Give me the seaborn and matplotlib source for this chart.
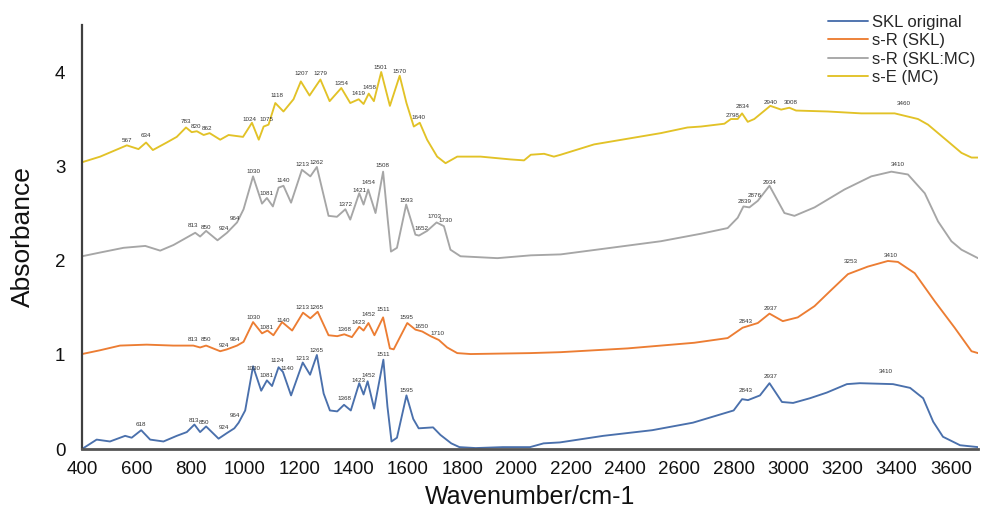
import matplotlib
matplotlib.use("Agg")
import matplotlib.pyplot as plt
import seaborn as sns
import pandas as pd

# ---------------- data ----------------
series_names = ["SKL original", "s-R (SKL)", "s-R (SKL:MC)", "s-E (MC)"]

skl_wn = [400, 454, 503, 559, 583, 618, 651, 700, 749, 786, 814, 835, 857, 903, 934, 961, 977, 1001, 1030, 1060,
          1081, 1100, 1124, 1140, 1170, 1213, 1240, 1265, 1290, 1313, 1340, 1365, 1390, 1421, 1437, 1452, 1476, 1510,
          1525, 1540, 1560, 1595, 1620, 1640, 1693, 1720, 1760, 1790, 1850, 1950, 2050, 2100, 2160, 2320, 2500, 2650,
          2800, 2831, 2853, 2897, 2932, 2978, 3019, 3081, 3143, 3217, 3265, 3387, 3450, 3498, 3535, 3571, 3634, 3700]
skl_abs = [0.0, 0.10, 0.08, 0.14, 0.12, 0.20, 0.10, 0.08, 0.14, 0.18, 0.26, 0.18, 0.24, 0.11, 0.17, 0.22, 0.28, 0.41,
           0.88, 0.62, 0.73, 0.67, 0.87, 0.82, 0.57, 0.92, 0.79, 1.00, 0.59, 0.41, 0.40, 0.47, 0.41, 0.70, 0.58, 0.72,
           0.43, 0.95, 0.45, 0.08, 0.12, 0.57, 0.32, 0.22, 0.23, 0.15, 0.06, 0.02, 0.01, 0.02, 0.02, 0.06, 0.07, 0.14,
           0.20, 0.28, 0.41, 0.53, 0.52, 0.57, 0.70, 0.50, 0.49, 0.54, 0.60, 0.69, 0.70, 0.69, 0.65, 0.54, 0.29, 0.13,
           0.04, 0.02]

sr_wn = [400, 466, 540, 638, 736, 810, 835, 857, 909, 934, 971, 995, 1030, 1063, 1083, 1105, 1137, 1174, 1214, 1241,
         1268, 1308, 1340, 1366, 1394, 1421, 1437, 1455, 1477, 1509, 1534, 1548, 1598, 1628, 1653, 1684, 1714, 1745,
         1782, 1831, 2050, 2163, 2409, 2655, 2778, 2833, 2889, 2932, 2981, 3036, 3098, 3159, 3221, 3294, 3368, 3405,
         3467, 3541, 3614, 3676, 3700]
sr_abs = [1.01, 1.05, 1.10, 1.11, 1.10, 1.10, 1.08, 1.10, 1.04, 1.06, 1.10, 1.14, 1.35, 1.23, 1.26, 1.21, 1.35, 1.26,
          1.45, 1.39, 1.46, 1.21, 1.20, 1.22, 1.19, 1.30, 1.26, 1.34, 1.21, 1.40, 1.07, 1.06, 1.34, 1.27, 1.25, 1.20,
          1.16, 1.08, 1.02, 1.01, 1.02, 1.03, 1.07, 1.13, 1.18, 1.29, 1.34, 1.44, 1.36, 1.40, 1.52, 1.69, 1.86, 1.94,
          2.00, 1.99, 1.87, 1.57, 1.29, 1.04, 1.02]

mix_wn = [400, 467, 553, 633, 688, 737, 817, 835, 857, 899, 934, 971, 995, 1030, 1063, 1081, 1103, 1124, 1142, 1170,
          1210, 1241, 1265, 1308, 1339, 1370, 1388, 1421, 1437, 1454, 1481, 1509, 1526, 1538, 1560, 1594, 1628, 1641,
          1671, 1706, 1733, 1757, 1794, 1930, 2053, 2163, 2348, 2532, 2680, 2778, 2815, 2836, 2858, 2889, 2932, 2987,
          3024, 3098, 3208, 3307, 3381, 3442, 3504, 3553, 3602, 3639, 3700]
mix_abs = [2.05, 2.09, 2.14, 2.16, 2.11, 2.17, 2.30, 2.26, 2.32, 2.22, 2.30, 2.41, 2.55, 2.90, 2.61, 2.67, 2.58, 2.78,
           2.80, 2.62, 2.97, 2.90, 3.00, 2.48, 2.47, 2.55, 2.44, 2.72, 2.60, 2.76, 2.51, 2.95, 2.44, 2.10, 2.14, 2.60,
           2.28, 2.27, 2.32, 2.41, 2.37, 2.12, 2.05, 2.03, 2.06, 2.07, 2.14, 2.21, 2.29, 2.35, 2.46, 2.58, 2.57, 2.64,
           2.80, 2.51, 2.48, 2.57, 2.76, 2.90, 2.95, 2.92, 2.72, 2.42, 2.21, 2.12, 2.03]

mc_wn = [400, 467, 516, 565, 608, 636, 661, 712, 749, 783, 804, 823, 848, 870, 909, 940, 993, 1026, 1051, 1069, 1087,
         1112, 1142, 1179, 1206, 1238, 1278, 1312, 1355, 1388, 1419, 1437, 1456, 1475, 1502, 1534, 1570, 1595, 1622,
         1644, 1671, 1708, 1739, 1782, 1868, 1979, 2028, 2053, 2102, 2138, 2163, 2286, 2409, 2532, 2630, 2680, 2766,
         2790, 2815, 2831, 2852, 2876, 2935, 2975, 3005, 3030, 3147, 3270, 3393, 3479, 3516, 3590, 3639, 3676, 3700]
mc_abs = [3.05, 3.11, 3.17, 3.23, 3.19, 3.26, 3.18, 3.26, 3.32, 3.42, 3.37, 3.38, 3.34, 3.36, 3.29, 3.34, 3.32, 3.47,
          3.29, 3.43, 3.45, 3.68, 3.59, 3.72, 3.91, 3.76, 3.93, 3.70, 3.84, 3.68, 3.72, 3.67, 3.78, 3.70, 4.01, 3.65,
          3.97, 3.68, 3.43, 3.47, 3.29, 3.11, 3.04, 3.11, 3.11, 3.08, 3.07, 3.13, 3.14, 3.11, 3.13, 3.24, 3.30, 3.36,
          3.42, 3.43, 3.46, 3.51, 3.51, 3.57, 3.48, 3.51, 3.65, 3.61, 3.63, 3.60, 3.59, 3.57, 3.57, 3.51, 3.45, 3.27,
          3.15, 3.10, 3.10]

# peak labels: wavenumber text and the height at which each label sits
skl_peaks = [618, 813, 850, 924, 964, 1030, 1081, 1124, 1140, 1213, 1265, 1368, 1423, 1452, 1511, 1595, 2843, 2937, 3410]
skl_peak_y = [0.26, 0.30, 0.28, 0.23, 0.36, 0.86, 0.78, 0.94, 0.86, 0.96, 1.05, 0.54, 0.73, 0.78, 1.00, 0.62, 0.62, 0.77, 0.82]
sr_peaks = [813, 850, 924, 964, 1030, 1081, 1140, 1213, 1265, 1368, 1423, 1452, 1511, 1595, 1650, 1710, 2843, 2937, 3253, 3410]
sr_peak_y = [1.17, 1.16, 1.10, 1.17, 1.40, 1.29, 1.37, 1.51, 1.51, 1.27, 1.35, 1.43, 1.48, 1.40, 1.30, 1.23, 1.36, 1.49, 1.99, 2.06]
mix_peaks = [813, 850, 924, 964, 1030, 1081, 1140, 1213, 1262, 1372, 1421, 1454, 1508, 1593, 1652, 1703, 1730, 2839, 2876, 2934, 3410]
mix_peak_y = [2.38, 2.36, 2.35, 2.45, 2.95, 2.72, 2.86, 3.03, 3.05, 2.60, 2.75, 2.83, 3.02, 2.64, 2.35, 2.47, 2.43, 2.63, 2.70, 2.84, 3.03]
mc_peaks = [567, 634, 783, 820, 862, 1024, 1075, 1118, 1207, 1279, 1354, 1419, 1458, 1501, 1570, 1640, 2798, 2834, 2940, 3008, 3460]
mc_peak_y = [3.28, 3.33, 3.48, 3.43, 3.41, 3.51, 3.51, 3.76, 3.99, 3.99, 3.89, 3.78, 3.85, 4.06, 4.02, 3.53, 3.55, 3.64, 3.69, 3.69, 3.68]

# ---------------- build long table ----------------
frames = []
for name, wn, ab in zip(series_names, [skl_wn, sr_wn, mix_wn, mc_wn], [skl_abs, sr_abs, mix_abs, mc_abs]):
    frames.append(pd.DataFrame({"Wavenumber": wn, "Absorbance": ab, "Sample": name}))
df = pd.concat(frames, ignore_index=True)

colors = {"SKL original": "#4A70AC", "s-R (SKL)": "#EC7D33", "s-R (SKL:MC)": "#A6A6A6", "s-E (MC)": "#E2C227"}

sns.set_theme(style="white")
plt.rcParams["font.family"] = ["Liberation Sans", "DejaVu Sans"]

fig = plt.figure(figsize=(9.81, 5.12), dpi=100)
ax = fig.add_axes([82 / 981, 1 - 449 / 512, (978 - 82) / 981, (449 - 25) / 512])

sns.lineplot(data=df, x="Wavenumber", y="Absorbance", hue="Sample", hue_order=series_names,
             palette=colors, estimator=None, sort=True, linewidth=1.35, ax=ax, legend=True)

# peak annotations (small horizontal nudges where labels crowd)
label_shift = {("SKL original", 1140): 16, ("SKL original", 1124): -4, ("SKL original", 3410): -50,
               ("SKL original", 1423): -6, ("SKL original", 1452): 4,
               ("s-R (SKL)", 813): -6, ("s-R (SKL)", 850): 5, ("s-R (SKL)", 1423): -4, ("s-R (SKL)", 1452): 4,
               ("s-R (SKL)", 3253): -20, ("s-R (SKL)", 3410): -30,
               ("s-R (SKL:MC)", 813): -6, ("s-R (SKL:MC)", 850): 5, ("s-R (SKL:MC)", 1703): -6,
               ("s-R (SKL:MC)", 1730): 10, ("s-R (SKL:MC)", 3410): -5,
               ("s-E (MC)", 1024): -6, ("s-E (MC)", 1075): 6, ("s-E (MC)", 3460): -35,
               ("s-E (MC)", 2940): -3, ("s-E (MC)", 3008): 3}
for name, peaks, ys in [("SKL original", skl_peaks, skl_peak_y), ("s-R (SKL)", sr_peaks, sr_peak_y),
                        ("s-R (SKL:MC)", mix_peaks, mix_peak_y), ("s-E (MC)", mc_peaks, mc_peak_y)]:
    for p, yv in zip(peaks, ys):
        ax.text(p + label_shift.get((name, p), 0), yv, str(p), fontsize=4.5, color="#333333",
                ha="center", va="center")

ax.set_xlim(400, 3700)
ax.set_ylim(0, 4.51)
ax.set_xticks(range(400, 3601, 200))
ax.set_yticks([0, 1, 2, 3, 4])
ax.tick_params(axis="both", length=0, labelsize=13.5, colors="#111111")
ax.tick_params(axis="y", pad=12)
ax.tick_params(axis="x", pad=9)
ax.set_xlabel("Wavenumber/cm-1", fontsize=18, color="#111111", labelpad=5)
ax.set_ylabel("Absorbance", fontsize=19, color="#111111", labelpad=14)

for s in ["top", "right"]:
    ax.spines[s].set_visible(False)
ax.spines["left"].set_color("#404040")
ax.spines["left"].set_linewidth(1.6)
ax.spines["bottom"].set_color("#555555")
ax.spines["bottom"].set_linewidth(2.0)

handles, labels = ax.get_legend_handles_labels()
ax.get_legend().remove()
fig.legend(handles, labels, loc="upper left", bbox_to_anchor=(828 / 981, 1 - 15 / 512),
           bbox_transform=fig.transFigure, frameon=False, fontsize=12, handlelength=2.4,
           handletextpad=0.25, labelspacing=0.2, borderpad=0, borderaxespad=0)

fig.savefig("out.png", dpi=100)
